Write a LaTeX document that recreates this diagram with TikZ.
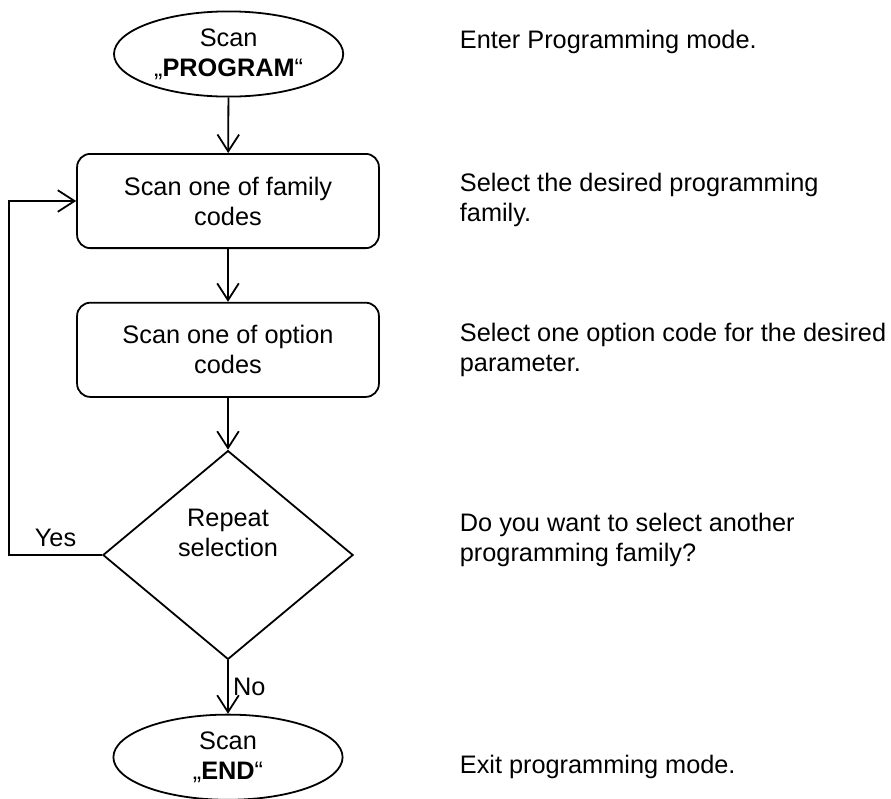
\documentclass[tikz,border=0pt]{standalone}
\usepackage{fontspec}
\setmainfont{Liberation Sans}
\usetikzlibrary{shapes.geometric,arrows.meta,positioning}

\begin{document}
\begin{tikzpicture}[line width=0.85pt,
    font=\fontsize{12}{14.2}\selectfont,
    >={Straight Barb[length=0.28cm,width=0.36cm]},
    term/.style={draw,ellipse,minimum width=3.82cm,minimum height=1.42cm,inner sep=0pt,align=center},
    proc/.style={draw,rounded corners=0.22cm,minimum width=5.03cm,minimum height=1.57cm,align=center},
    decide/.style={draw,diamond,minimum width=4.17cm,minimum height=3.48cm,inner sep=0pt,align=center,text depth=0.75cm},
    note/.style={anchor=west,align=left,inner sep=0pt}]
  \useasboundingbox (0,0) rectangle (14.85,-13.3);
  % flow
  \node[term] (start) at (3.81,-0.9) {Scan\\„\textbf{PROGRAM}“};
  \node[proc] (fam) at (3.8,-3.35) {Scan one of family\\codes};
  \node[proc] (opt) at (3.8,-5.83) {Scan one of option\\codes};
  \node[decide] (rep) at (3.8,-9.25) {Repeat\\selection};
  \node[term] (stop) at (3.8,-12.62) {Scan\\„\textbf{END}“};
  \coordinate (back) at (0.15,-9.25);
  \draw[->] (start) -- (fam);
  \draw[->] (fam) -- (opt);
  \draw[->] (opt) -- (rep);
  \draw[->] (rep) -- node[right,inner sep=2pt] {No} (stop);
  \draw[->] (rep.west) -- node[above] {Yes} (back) |- (fam.west);
  % notes
  \node[note] (n1) at (7.65,-0.7) {Enter Programming mode.};
  \node[note] (n2) at (7.65,-3.33) {Select the desired programming\\family.};
  \node[note] (n3) at (7.65,-5.83) {Select one option code for the desired\\parameter.};
  \node[note] (n4) at (7.65,-9.0) {Do you want to select another\\programming family?};
  \node[note] (n5) at (7.65,-12.78) {Exit programming mode.};
\end{tikzpicture}
\end{document}
